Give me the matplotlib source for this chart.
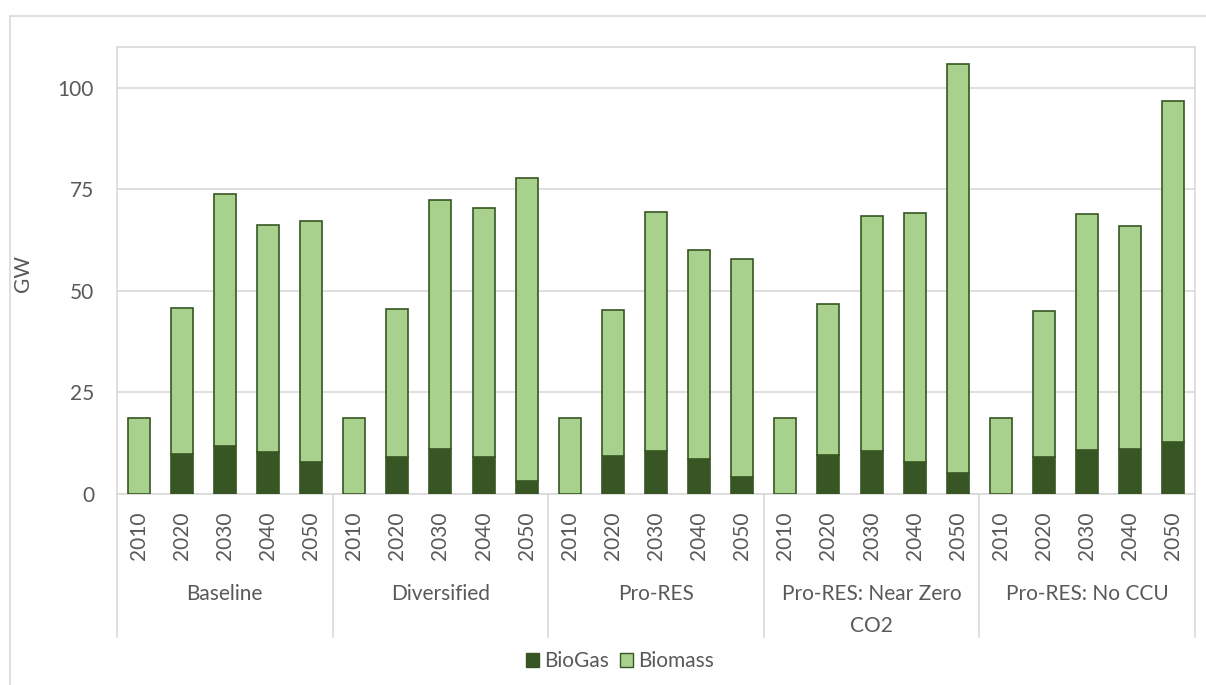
import matplotlib.pyplot as plt
from matplotlib.lines import Line2D
from matplotlib.patches import Patch
import numpy as np

plt.rcParams['font.family'] = ['Lato', 'DejaVu Sans']

# Data (GW)
scenarios = ["Baseline", "Diversified", "Pro-RES", "Pro-RES: Near Zero\nCO2", "Pro-RES: No CCU"]
years = ["2010", "2020", "2030", "2040", "2050"]

biogas = [
    [0.0, 9.9, 11.7, 10.4, 7.8],
    [0.0, 9.2, 11.1, 9.1, 3.3],
    [0.0, 9.4, 10.7, 8.7, 4.2],
    [0.0, 9.7, 10.5, 7.8, 5.2],
    [0.0, 9.1, 10.8, 11.1, 12.7],
]
total = [
    [18.7, 45.7, 73.9, 66.3, 67.2],
    [18.7, 45.5, 72.3, 70.5, 77.7],
    [18.7, 45.3, 69.3, 60.1, 57.8],
    [18.7, 46.7, 68.4, 69.1, 105.8],
    [18.7, 45.0, 68.9, 65.9, 96.6],
]

biogas_flat = np.array(biogas).ravel()
biomass_flat = np.array(total).ravel() - biogas_flat

dark = "#375623"
light = "#A9D18E"
grid_c = "#D9D9D9"
text_c = "#595959"
fs = 15

fig = plt.figure(figsize=(12.06, 6.85), dpi=100)
ax = fig.add_axes([117 / 1206, 1 - 494 / 685, (1195 - 117) / 1206, (494 - 47) / 685])

n = len(biogas_flat)
x = np.arange(n)
ax.bar(x, biogas_flat, width=0.51, color=dark, edgecolor=dark, linewidth=1.2, zorder=3)
ax.bar(x, biomass_flat, bottom=biogas_flat, width=0.51, color=light,
       edgecolor=dark, linewidth=1.2, zorder=3)

ax.set_xlim(-0.5, n - 0.5)
ax.set_ylim(0, 110)
ax.set_yticks([0, 25, 50, 75, 100])
ax.yaxis.grid(True, color=grid_c, linewidth=1.2, zorder=0)
ax.tick_params(axis='y', length=0, labelsize=fs, labelcolor=text_c, pad=16.5)
ax.set_xticks([])
for side in ax.spines:
    ax.spines[side].set_color(grid_c)
    ax.spines[side].set_linewidth(1.2)
ax.set_ylabel("GW", fontsize=fs, color=text_c)
ax.yaxis.set_label_coords((33 - 117) / 1078, (494 - 273) / 447)

# multi-level category axis
depth = -(637 - 494) / (494 - 47)
trans = ax.get_xaxis_transform()
for i, yr in enumerate(years * len(scenarios)):
    ax.text(i, -0.04, yr, rotation=90, ha='center', va='top', fontsize=fs,
            color=text_c, transform=trans)
for g, name in enumerate(scenarios):
    ax.text(g * 5 + 2, -0.202, name, ha='center', va='top', fontsize=fs,
            color=text_c, transform=trans, linespacing=1.75)
    ax.add_line(Line2D([g * 5 - 0.5, g * 5 - 0.5], [0, depth], transform=trans,
                       color=grid_c, linewidth=1.2, clip_on=False))
ax.add_line(Line2D([n - 0.5, n - 0.5], [0, depth], transform=trans,
                   color=grid_c, linewidth=1.2, clip_on=False))

# chart area border
fig.add_artist(Line2D([10 / 1206, 10 / 1206], [0, 1 - 16 / 685], color=grid_c, linewidth=1.2))
fig.add_artist(Line2D([10 / 1206, 1], [1 - 16 / 685, 1 - 16 / 685], color=grid_c, linewidth=1.2))

handles = [Patch(facecolor=dark, edgecolor=dark), Patch(facecolor=light, edgecolor=dark)]
fig.legend(handles, ["BioGas", "Biomass"], loc='center', bbox_to_anchor=(620 / 1206, 1 - 661 / 685),
           ncol=2, frameon=False, fontsize=fs, labelcolor=text_c, handlelength=0.65,
           handleheight=0.65, handletextpad=0.25, columnspacing=0.5)

fig.savefig("out.png", dpi=100)
